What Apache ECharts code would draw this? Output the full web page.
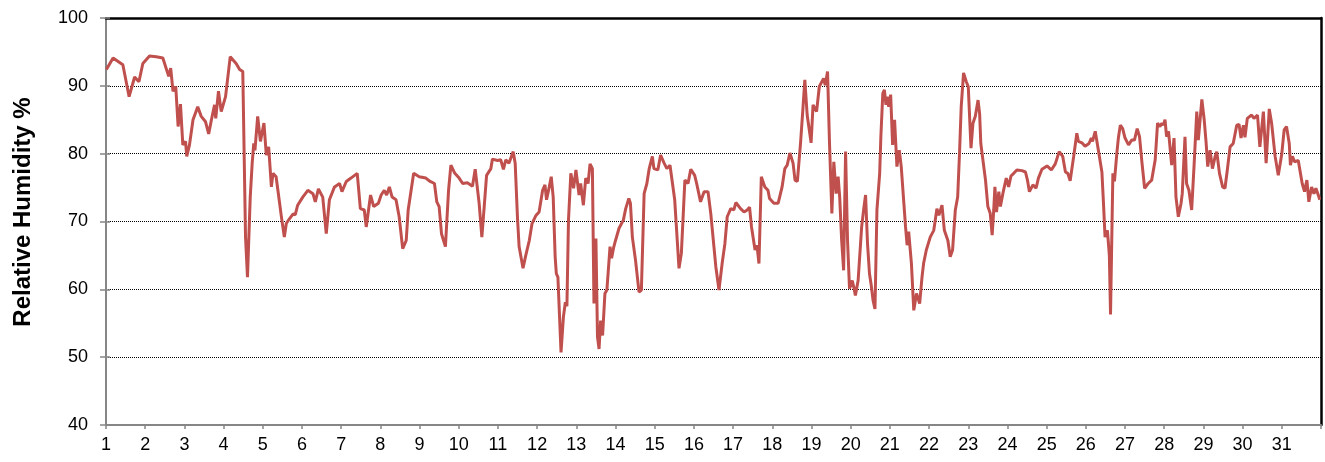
<!DOCTYPE html>
<html>
<head>
<meta charset="utf-8">
<script src="https://cdn.jsdelivr.net/npm/echarts@6/dist/echarts.min.js"></script>
<style>
html,body{margin:0;padding:0;background:#fff;}
#chart{width:1325px;height:462px;}
</style>
</head>
<body>
<div id="chart"></div>
<script>
// Time in days (day of month + fraction of day)
const times = [
1.01,1.18,1.43,1.59,1.73,1.84,1.94,2.11,2.28,2.45,2.60,2.65,2.71,2.78,2.84,2.90,2.96,3.03,3.06,3.13,
3.22,3.34,3.43,3.54,3.62,3.69,3.77,3.80,3.87,3.94,4.05,4.17,4.32,4.41,4.49,4.56,4.61,4.68,4.73,4.77,
4.80,4.87,4.94,5.03,5.09,5.15,5.22,5.26,5.34,5.43,5.47,5.55,5.60,5.68,5.77,5.83,5.89,6.02,6.15,6.28,
6.34,6.42,6.53,6.62,6.70,6.83,6.96,7.02,7.13,7.25,7.41,7.49,7.59,7.64,7.75,7.83,7.95,8.02,8.10,8.16,
8.23,8.30,8.40,8.48,8.57,8.66,8.71,8.85,8.99,9.16,9.27,9.38,9.44,9.50,9.56,9.66,9.74,9.80,9.90,10.01,
10.10,10.22,10.35,10.42,10.47,10.52,10.59,10.65,10.71,10.82,10.86,10.99,11.07,11.14,11.20,11.28,11.39,11.44,11.50,11.54,
11.64,11.71,11.80,11.87,11.97,12.05,12.14,12.20,12.24,12.31,12.36,12.41,12.46,12.49,12.53,12.61,12.67,12.72,12.76,12.80,
12.86,12.93,12.99,13.03,13.07,13.11,13.18,13.24,13.30,13.35,13.41,13.45,13.50,13.54,13.58,13.62,13.67,13.73,13.78,13.86,
13.90,13.95,14.00,14.09,14.20,14.26,14.34,14.38,14.43,14.51,14.60,14.66,14.73,14.80,14.86,14.94,14.98,15.08,15.15,15.24,
15.31,15.39,15.51,15.62,15.68,15.77,15.85,15.92,16.02,16.07,16.17,16.26,16.36,16.43,16.56,16.64,16.72,16.79,16.85,16.94,
17.02,17.07,17.19,17.28,17.36,17.42,17.47,17.56,17.61,17.66,17.72,17.76,17.81,17.89,17.93,18.04,18.15,18.25,18.32,18.38,
18.45,18.53,18.58,18.64,18.72,18.78,18.83,18.89,18.93,18.99,19.04,19.13,19.20,19.25,19.31,19.35,19.41,19.46,19.52,19.57,
19.63,19.68,19.72,19.77,19.82,19.87,19.92,19.97,20.04,20.08,20.12,20.19,20.28,20.33,20.38,20.43,20.48,20.52,20.57,20.62,
20.67,20.74,20.77,20.82,20.86,20.90,20.93,20.97,21.02,21.07,21.12,21.18,21.24,21.29,21.34,21.40,21.44,21.48,21.55,21.61,
21.68,21.73,21.76,21.82,21.86,21.93,22.03,22.12,22.20,22.25,22.33,22.39,22.48,22.54,22.60,22.67,22.73,22.78,22.82,22.88,
22.95,23.00,23.03,23.07,23.12,23.18,23.25,23.29,23.32,23.37,23.44,23.50,23.56,23.61,23.65,23.68,23.72,23.78,23.82,23.90,
23.97,24.03,24.09,24.16,24.24,24.37,24.46,24.51,24.56,24.65,24.73,24.79,24.88,25.01,25.12,25.22,25.32,25.41,25.48,25.54,
25.60,25.69,25.77,25.81,25.90,25.98,26.08,26.14,26.17,26.24,26.32,26.41,26.45,26.49,26.55,26.60,26.63,26.66,26.69,26.73,
26.79,26.83,26.88,26.94,27.00,27.09,27.17,27.24,27.31,27.37,27.43,27.50,27.59,27.68,27.77,27.83,27.89,27.94,27.98,28.02,
28.06,28.11,28.19,28.25,28.30,28.36,28.43,28.46,28.50,28.53,28.57,28.63,28.70,28.76,28.83,28.87,28.96,29.02,29.07,29.11,
29.17,29.23,29.30,29.34,29.41,29.49,29.55,29.61,29.68,29.76,29.85,29.91,29.96,30.02,30.06,30.12,30.23,30.29,30.38,30.44,
30.53,30.60,30.68,30.74,30.83,30.91,31.00,31.06,31.12,31.19,31.22,31.27,31.33,31.42,31.47,31.52,31.58,31.64,31.69,31.76,
31.82,31.87,31.93,31.97
];
// Relative humidity (%)
const humidity = [
92.4,94.1,93.1,88.4,91.3,90.6,93.3,94.4,94.3,94.1,91.4,92.6,89.2,89.9,84.0,87.3,81.3,81.8,79.6,81.3,
85.0,86.9,85.5,84.7,82.9,85.0,87.2,85.2,89.2,86.2,88.4,94.3,93.3,92.4,92.1,67.7,61.8,73.6,78.6,81.5,
80.5,85.5,81.8,84.5,79.8,81.0,75.1,77.1,76.6,72.7,70.9,67.7,69.7,70.4,71.1,71.0,72.4,73.6,74.6,74.1,
72.9,74.8,73.6,68.2,73.2,75.1,75.6,74.4,75.9,76.4,77.1,71.9,71.7,69.2,73.9,72.2,72.7,73.9,74.6,73.9,
75.1,73.6,73.2,70.7,66.0,67.2,71.7,77.1,76.6,76.4,75.9,75.6,72.9,72.2,68.2,66.3,74.6,78.3,77.1,76.4,
75.6,75.7,75.2,77.7,77.6,72.7,67.7,72.2,76.8,77.8,79.2,79.0,79.1,77.7,79.1,78.6,80.3,78.6,70.4,66.3,
63.1,65.0,67.2,69.7,70.9,71.4,74.6,75.4,73.2,75.1,76.6,73.6,64.8,62.3,61.8,50.7,55.9,58.1,57.5,70.2,
77.1,74.9,77.6,77.8,73.9,75.6,72.4,76.4,75.6,78.5,77.8,57.9,67.5,53.0,51.2,55.4,53.2,59.4,59.9,66.3,
64.6,66.1,67.2,69.0,70.2,71.9,73.4,72.7,67.7,64.3,59.6,59.9,74.1,75.6,77.8,79.6,77.8,77.6,79.8,78.6,
77.8,78.3,73.2,63.1,65.3,76.1,75.6,77.7,76.8,75.6,72.9,74.4,74.4,71.2,63.3,59.9,63.8,66.7,70.7,71.9,
71.7,72.8,71.9,71.4,71.7,72.1,69.2,65.8,66.5,63.8,76.6,76.8,75.1,74.6,73.4,72.7,72.7,75.1,77.8,78.3,
80.1,78.6,76.1,75.9,81.5,86.5,90.9,85.7,85.5,81.6,87.2,86.2,89.9,90.0,91.1,90.1,92.1,81.5,71.2,78.8,
74.1,76.6,73.6,67.2,62.8,80.3,67.2,60.1,61.3,60.3,59.1,61.3,69.2,71.7,73.9,66.7,62.3,60.8,58.4,57.1,
71.7,77.1,82.5,88.9,89.4,87.2,88.4,86.9,88.7,81.3,85.0,78.1,80.5,78.1,78.3,69.2,66.5,68.5,63.8,56.9,
59.4,59.4,57.9,61.8,63.8,65.8,67.7,68.7,71.9,70.9,72.4,68.7,67.2,64.8,65.8,71.7,73.6,80.5,86.9,91.9,
90.6,89.9,90.1,80.8,84.5,85.5,87.9,85.9,81.5,81.5,76.1,72.2,71.2,68.0,71.7,75.1,71.4,74.4,72.2,74.6,
76.4,75.1,76.7,77.1,77.6,77.5,77.3,76.1,74.4,75.4,74.9,76.4,77.7,78.2,77.6,78.5,80.3,79.6,77.3,77.1,
76.0,79.6,83.0,81.8,81.6,81.1,81.5,82.3,81.8,83.3,80.5,77.3,72.7,67.7,68.7,65.0,56.3,66.7,77.1,75.9,
80.0,82.3,84.2,83.7,82.3,81.3,82.0,82.0,83.7,82.5,78.8,74.9,75.6,76.1,79.1,84.5,84.0,84.5,84.2,85.0,
82.5,83.3,78.3,82.3,73.6,70.7,72.7,74.1,74.1,82.5,75.6,74.6,71.7,78.1,86.2,82.0,88.0,85.0,81.5,78.1,
80.5,77.8,79.6,80.3,77.1,75.1,74.9,77.6,81.0,81.5,84.2,84.3,82.3,84.2,82.4,85.2,85.7,85.2,85.7,81.0,
86.2,78.6,86.6,84.5,79.6,76.8,80.0,83.5,84.0,81.5,78.3,79.6,78.8,79.0,79.0,75.6,74.4,76.1,72.9,75.1,
74.1,74.9,73.9,73.2
];
const yTicks = [40, 50, 60, 70, 80, 90, 100];
const dayLabels = [1,2,3,4,5,6,7,8,9,10,11,12,13,14,15,16,17,18,19,20,21,22,23,24,25,26,27,28,29,30,31];
const yTitle = 'Relative Humidity %';

const seriesData = times.map((t, i) => [t, humidity[i]]);
const FONT = '"Liberation Sans", Arial, sans-serif';

const chart = echarts.init(document.getElementById('chart'), null, {renderer: 'canvas'});
chart.setOption({
  animation: false,
  backgroundColor: '#fff',
  grid: {left: 106, right: 4, top: 18, bottom: 37, containLabel: false},
  xAxis: [{
    type: 'value', min: dayLabels[0], max: dayLabels[dayLabels.length - 1] + 1, interval: 1,
    axisLine: {show: true, lineStyle: {color: '#868686', width: 2}},
    axisTick: {show: true, length: 4, lineStyle: {color: '#868686', width: 1.5}},
    axisLabel: {margin: 11, fontSize: 18, fontFamily: FONT, color: '#000',
      formatter: v => dayLabels.indexOf(v) >= 0 ? String(v) : ''},
    splitLine: {show: false}
  }, {
    type: 'value', position: 'top', min: dayLabels[0], max: dayLabels[dayLabels.length - 1] + 1,
    axisLine: {show: true, onZero: false, lineStyle: {color: '#000', width: 2.5}},
    axisTick: {show: false}, axisLabel: {show: false}, splitLine: {show: false}
  }],
  yAxis: [{
    type: 'value', min: yTicks[0], max: yTicks[yTicks.length - 1], interval: 10,
    axisLine: {show: true, lineStyle: {color: '#868686', width: 2}},
    axisTick: {show: true, length: 6, lineStyle: {color: '#868686', width: 1.5}},
    axisLabel: {margin: 18, fontSize: 18, fontFamily: FONT, color: '#000'},
    splitLine: {show: true, lineStyle: {color: '#000', width: 1, type: 'dotted'}}
  }, {
    type: 'value', position: 'left', min: yTicks[0], max: yTicks[yTicks.length - 1], interval: 10,
    axisLine: {show: false},
    axisTick: {show: true, inside: true, length: 4, lineStyle: {color: '#868686', width: 1.5}},
    axisLabel: {show: false}, splitLine: {show: false}
  }, {
    type: 'value', position: 'right', min: yTicks[0], max: yTicks[yTicks.length - 1],
    axisLine: {show: true, onZero: false, lineStyle: {color: '#000', width: 2.5}},
    axisTick: {show: false}, axisLabel: {show: false}, splitLine: {show: false}
  }],
  graphic: [{
    type: 'text', x: 23, y: 212, rotation: Math.PI / 2,
    style: {text: yTitle, font: 'bold 24px ' + FONT, fill: '#000', align: 'center', verticalAlign: 'middle'}
  }],
  series: [{
    type: 'line', xAxisIndex: 0, yAxisIndex: 0, data: seriesData,
    showSymbol: false, symbol: 'none', smooth: false,
    lineStyle: {color: '#C0504D', width: 3},
    z: 3
  }]
});
</script>
</body>
</html>
